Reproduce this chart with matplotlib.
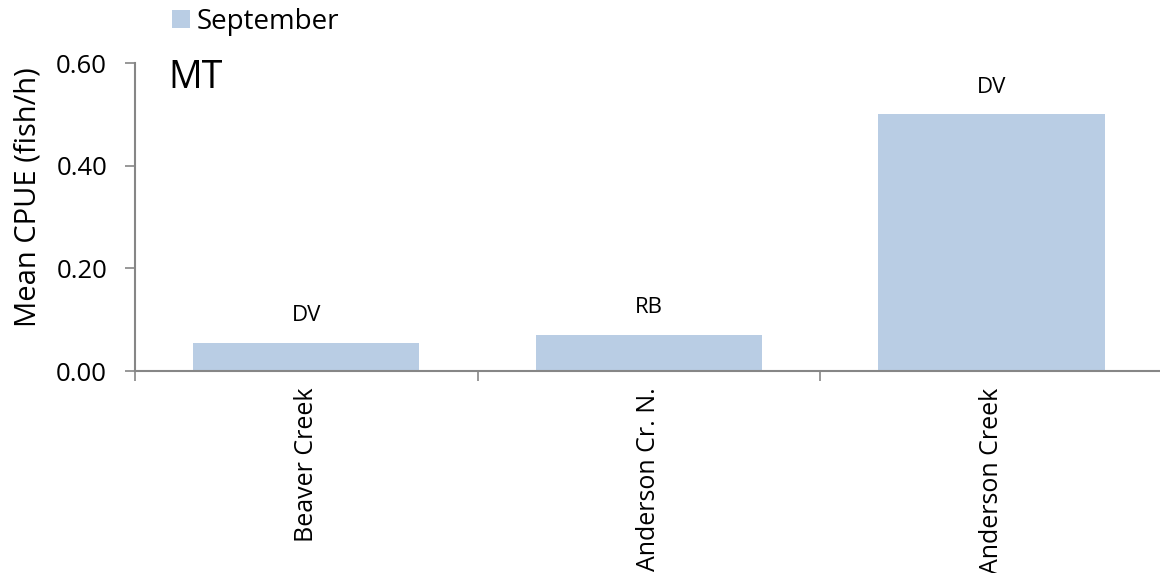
import matplotlib
matplotlib.use("Agg")
import matplotlib.pyplot as plt
import numpy as np

plt.rcParams['font.family'] = ['Open Sans', 'DejaVu Sans']

# data
sites = ['Beaver Creek', 'Anderson Cr. N.', 'Anderson Creek']
cpue = [0.055, 0.071, 0.50]
species = ['DV', 'RB', 'DV']
yticks = [0.0, 0.2, 0.4, 0.6]

BAR = '#b9cde4'
AXC = '#868686'

fig = plt.figure(figsize=(11.6, 5.73), dpi=100)
ax = fig.add_axes([0.1164, 0.3525, 0.886, 0.5375])

x = np.arange(len(sites))
ax.bar(x, cpue, width=0.66, color=BAR, label='September', zorder=2)

# species labels above bars
for xi, v, s in zip(x, cpue, species):
    ax.annotate(s, (xi, v), xytext=(0, 19.5), textcoords='offset points',
                ha='center', va='center', fontsize=16)

ax.set_xlim(-0.5, 2.5)
ax.set_ylim(0, 0.6)
ax.set_yticks(yticks)
ax.set_yticklabels([f'{v:.2f}' for v in yticks], fontsize=18.5)
ax.set_xticks(x)
ax.set_xticklabels(sites, rotation=90, fontsize=18, va='top')
ax.tick_params(axis='x', length=0, pad=12)
ax.set_xticks([-0.5, 0.5, 1.5], minor=True)
ax.tick_params(axis='x', which='minor', length=7, width=1.2, color=AXC, direction='out')
ax.tick_params(axis='y', length=7, width=1.2, color=AXC, direction='out', pad=13)

for sp in ['top', 'right']:
    ax.spines[sp].set_visible(False)
for sp in ['left', 'bottom']:
    ax.spines[sp].set_color(AXC)
    ax.spines[sp].set_linewidth(1.5)

ax.set_ylabel('Mean CPUE (fish/h)', fontsize=21)
ax.yaxis.set_label_coords(-0.09, 0.566)
ax.text(0.032, 0.919, 'MT', transform=ax.transAxes, fontsize=27,
        va='baseline', ha='left')

fig.legend(loc='center left', bbox_to_anchor=(0.148, 0.962), frameon=False,
           fontsize=20, handlelength=0.65, handleheight=0.65, handletextpad=0.25,
           borderpad=0, borderaxespad=0)

fig.savefig('out.png', dpi=100)
